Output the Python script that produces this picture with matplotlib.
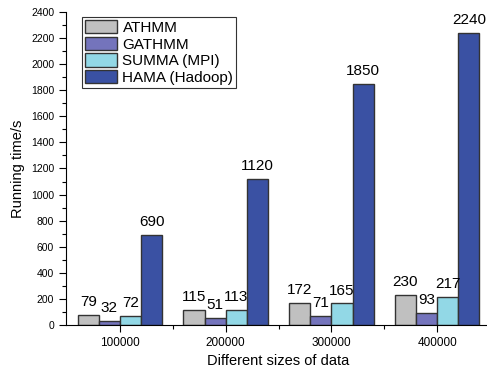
import numpy as np
import matplotlib
matplotlib.use("Agg")
import matplotlib.pyplot as plt
from matplotlib.ticker import MultipleLocator

plt.rcParams['font.family'] = ['Liberation Sans', 'DejaVu Sans']

sizes = ['100000', '200000', '300000', '400000']
athmm = [79, 115, 172, 230]
gathmm = [32, 51, 71, 93]
summa = [72, 113, 165, 217]
hama = [690, 1120, 1850, 2240]

series = [athmm, gathmm, summa, hama]
names = ['ATHMM', 'GATHMM', 'SUMMA (MPI)', 'HAMA (Hadoop)']
colors = ['#c0c0c0', '#7474bc', '#92d8e6', '#3a51a3']

fig = plt.figure(figsize=(4.87, 3.75), dpi=100)
ax = fig.add_axes([66/487, 50/375, 424/487, 313/375])

x = np.arange(len(sizes))
w = 0.2
for i, (vals, name, c) in enumerate(zip(series, names, colors)):
    pos = x + (i - 1.5) * w
    ax.bar(pos, vals, w, color=c, edgecolor='#333333', linewidth=1.0, label=name)
    for p, v in zip(pos, vals):
        ax.text(p, v + 45, str(v), ha='center', va='bottom', fontsize=11)

ax.set_xlim(-0.51, 3.5)
ax.set_ylim(0, 2400)
ax.set_xticks(x)
ax.set_xticklabels(sizes, fontsize=8.5)
ax.set_xticks(x + 0.5, minor=True)
ax.yaxis.set_major_locator(MultipleLocator(200))
ax.yaxis.set_minor_locator(MultipleLocator(100))
ax.tick_params(axis='y', labelsize=7.5)
ax.tick_params(which='major', direction='out', length=5, width=0.8)
ax.tick_params(which='minor', direction='out', length=3, width=0.8)
ax.spines['top'].set_visible(False)
ax.spines['right'].set_visible(False)

ax.set_xlabel('Different sizes of data', fontsize=10.5)
ax.set_ylabel('Running time/s', fontsize=10.5)

leg = ax.legend(loc='upper left', bbox_to_anchor=(0.0377, 0.984), fontsize=11,
                fancybox=False, edgecolor='#333333', framealpha=1,
                handlelength=2.1, handleheight=0.95, labelspacing=0.12,
                handletextpad=0.35, borderpad=0.2, borderaxespad=0)
leg.get_frame().set_linewidth(0.8)

plt.savefig('out.png', dpi=100)
